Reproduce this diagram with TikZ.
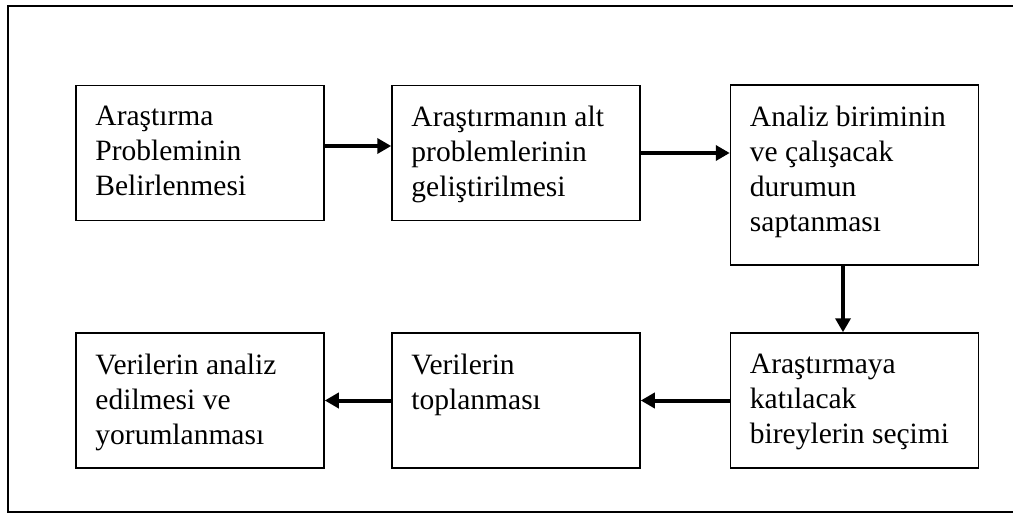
\documentclass[tikz,border=0pt]{standalone}
\usepackage{fontspec}
\setmainfont{Liberation Serif}
\usetikzlibrary{arrows.meta}
\begin{document}
\begin{tikzpicture}[x=1pt,y=-1pt,
  stepbox/.style={draw, line width=1.5pt, minimum width=248pt, minimum height=135pt, inner sep=0pt},
  txt/.style={anchor=north west, inner sep=0pt, align=left, font=\fontsize{29.5pt}{35pt}\selectfont},
  flow/.style={line width=4pt, -{Triangle[length=14pt,width=15pt]}}]
\useasboundingbox (0,0) rectangle (1013,514);
% frame (open on the right)
\draw[line width=2pt] (1013,6) -- (8,6) -- (8,512) -- (1013,512);
% boxes
\node[stepbox] (b1) at (200,153) {};
\node[stepbox] (b2) at (516,153) {};
\node[stepbox, minimum height=180pt] (b3) at (854.5,175) {};
\node[stepbox] (b4) at (854.5,400.5) {};
\node[stepbox] (b5) at (200,400.5) {};
\node[stepbox] (b6) at (516,400.5) {};
% texts
\node[txt] (t1) at ([xshift=20pt,yshift=-21.5pt]b1.north west) {Araştırma\\Probleminin\\Belirlenmesi};
\node[txt] (t2) at ([xshift=20pt,yshift=-21.5pt]b2.north west) {Araştırmanın alt\\problemlerinin\\geliştirilmesi};
\node[txt] (t3) at ([xshift=20pt,yshift=-21.5pt]b3.north west) {Analiz biriminin\\ve çalışacak\\durumun\\saptanması};
\node[txt] (t4) at ([xshift=20pt,yshift=-21.5pt]b4.north west) {Araştırmaya\\katılacak\\bireylerin seçimi};
\node[txt] (t5) at ([xshift=20pt,yshift=-21.5pt]b5.north west) {Verilerin analiz\\edilmesi ve\\yorumlanması};
\node[txt] (t6) at ([xshift=20pt,yshift=-21.5pt]b6.north west) {Verilerin\\toplanması};
% connectors
\draw[flow] ([yshift=7pt]b1.east) -- ([yshift=7pt]b2.west);
\draw[flow] (b2.east) -- (b2.east -| b3.west);
\draw[flow] ([xshift=-11.5pt]b3.south) -- ([xshift=-11.5pt]b4.north);
\draw[flow] (b4.west) -- (b6.east);
\draw[flow] (b6.west) -- (b5.east);
\end{tikzpicture}
\end{document}
